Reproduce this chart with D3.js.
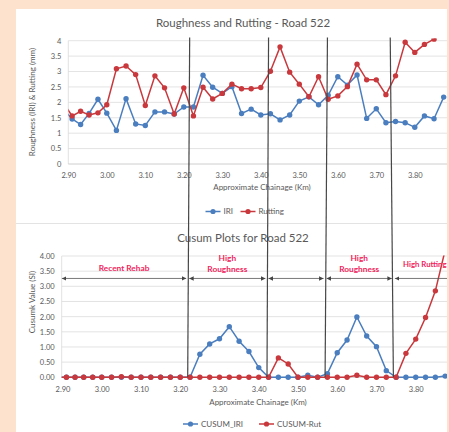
<!DOCTYPE html>
<html><head><meta charset="utf-8">
<script src="https://cdn.jsdelivr.net/npm/d3@7"></script>
<style>body{margin:0;background:#fde2ce;} svg{display:block;font-family:Lato,"Open Sans",sans-serif;}</style>
</head><body><svg id="c" width="449" height="432"></svg>
<script>
// ---- data ----
const chainage = [2.888, 2.910, 2.932, 2.954, 2.977, 3.000, 3.025, 3.050, 3.075, 3.100, 3.125,
  3.150, 3.175, 3.200, 3.225, 3.250, 3.275, 3.300, 3.325, 3.350, 3.375, 3.400, 3.425, 3.450,
  3.475, 3.500, 3.525, 3.550, 3.575, 3.600, 3.625, 3.650, 3.675, 3.700, 3.725, 3.750, 3.775,
  3.800, 3.825, 3.850, 3.875];
const iri = [1.76, 1.46, 1.28, 1.64, 2.10, 1.65, 1.09, 2.12, 1.30, 1.25, 1.69, 1.69, 1.62, 1.85,
  1.85, 2.88, 2.49, 2.29, 2.51, 1.64, 1.78, 1.59, 1.63, 1.43, 1.59, 2.04, 2.18, 1.92, 2.23, 2.83,
  2.56, 2.89, 1.48, 1.79, 1.34, 1.38, 1.34, 1.19, 1.56, 1.47, 2.17];
const rutting = [1.96, 1.56, 1.71, 1.59, 1.66, 1.92, 3.09, 3.18, 2.90, 1.90, 2.86, 2.47, 1.62,
  2.47, 1.56, 2.49, 2.11, 2.29, 2.59, 2.44, 2.44, 2.48, 3.01, 3.80, 2.98, 2.59, 2.18, 2.83, 2.10,
  2.21, 2.51, 3.24, 2.73, 2.73, 2.25, 2.86, 3.95, 3.62, 3.88, 4.05, 4.30];
const cusumIri = [0, 0, 0, 0, 0, 0, 0, 0, 0, 0, 0, 0, 0, 0, 0, 0.76, 1.10, 1.27, 1.67, 1.19, 0.85,
  0.32, 0, 0, 0, 0, 0.07, 0, 0.12, 0.81, 1.23, 1.99, 1.36, 1.01, 0.22, 0, 0, 0, 0, 0, 0.04];
const cusumRut = [0, 0, 0, 0, 0, 0, 0, 0.02, 0, 0, 0, 0, 0, 0, 0, 0, 0, 0, 0, 0, 0, 0, 0, 0.64,
  0.44, 0, 0, 0, 0, 0, 0, 0.07, 0, 0, 0, 0, 0.79, 1.26, 1.97, 2.85, 4.20];
const xTicks = [2.90, 3.00, 3.10, 3.20, 3.30, 3.40, 3.50, 3.60, 3.70, 3.80];
const yTicks = [0, 0.5, 1, 1.5, 2, 2.5, 3, 3.5, 4];
const dividerTopKm = [3.224, 3.425, 3.575, 3.735];
const dividerBotKm = [3.219, 3.421, 3.569, 3.743];
const segmentLabels = [["Recent Rehab"], ["High", "Roughness"], [], ["High", "Roughness"], ["High Rutting"]];
const arrowLevel = 3.26;

const BLUE = "#4a7ebf", RED = "#c8383c", GREY = "#595959", LBL = "#f0245c";

const svg = d3.select("#c");
// white panel
svg.append("rect").attr("x", 16).attr("y", 9).attr("width", 431).attr("height", 423).attr("fill", "#fff");
svg.append("line").attr("x1", 16).attr("x2", 447).attr("y1", 223.5).attr("y2", 223.5)
  .attr("stroke", "#e3e3e3").attr("stroke-width", 1);

const defs = svg.append("defs");
defs.append("clipPath").attr("id", "clipT").append("rect").attr("x", 68.3).attr("y", 38.5).attr("width", 378.7).attr("height", 130);
defs.append("clipPath").attr("id", "clipB").append("rect").attr("x", 61.7).attr("y", 255.5).attr("width", 385.3).attr("height", 126);
defs.append("clipPath").attr("id", "clipPanel").append("rect").attr("x", 16).attr("y", 9).attr("width", 431).attr("height", 423);
["s", "e"].forEach(k => {
  defs.append("marker").attr("id", "ar" + k).attr("viewBox", "0 0 10 10").attr("refX", k === "e" ? 10 : 0).attr("refY", 5)
    .attr("markerWidth", 4.5).attr("markerHeight", 4.5).attr("markerUnits", "userSpaceOnUse").attr("orient", "auto")
    .append("path").attr("d", k === "e" ? "M0,0L10,5L0,10Z" : "M10,0L0,5L10,10Z").attr("fill", "#444");
});

function chart(cfg) {
  const { x, y, left, right, clip, title, titleY, yFmt, yTitle, yTitleY, series, legendY, legendX } = cfg;
  const g = svg.append("g");
  // gridlines
  g.selectAll(".grid").data(yTicks.slice(1)).join("line")
    .attr("x1", left).attr("x2", right).attr("y1", d => y(d)).attr("y2", d => y(d))
    .attr("stroke", "#dcdcdc").attr("stroke-width", 0.8);
  g.append("line").attr("x1", left).attr("x2", left).attr("y1", y(4)).attr("y2", y(0))
    .attr("stroke", "#d9d9d9").attr("stroke-width", 0.8);
  g.append("line").attr("x1", left).attr("x2", right).attr("y1", y(0)).attr("y2", y(0))
    .attr("stroke", "#c8c8c8").attr("stroke-width", 0.9);
  // axes
  const ax = g.append("g").attr("transform", `translate(0,${y(0)})`)
    .call(d3.axisBottom(x).tickValues(xTicks).tickFormat(d3.format(".2f")).tickSize(0).tickPadding(9));
  ax.select(".domain").remove();
  ax.selectAll("text").attr("fill", GREY).attr("font-size", 7.5).attr("font-family", "Lato");
  const ay = g.append("g").attr("transform", `translate(${left},0)`)
    .call(d3.axisLeft(y).tickValues(yTicks).tickFormat(yFmt).tickSize(0).tickPadding(7));
  ay.select(".domain").remove();
  ay.selectAll("text").attr("fill", GREY).attr("font-size", 7.5).attr("font-family", "Lato");
  // titles
  g.append("text").attr("x", 243).attr("y", titleY).attr("text-anchor", "middle").attr("fill", GREY)
    .attr("font-size", 11.5).text(title);
  g.append("text").attr("transform", `translate(35,${yTitleY}) rotate(-90)`).attr("text-anchor", "middle")
    .attr("fill", GREY).attr("font-size", 8).text(yTitle);
  g.append("text").attr("x", cfg.xTitleX).attr("y", cfg.xTitleY).attr("text-anchor", "middle").attr("fill", GREY)
    .attr("font-size", 8).text("Approximate Chainage (Km)");
  // series
  const pg = g.append("g").attr("clip-path", `url(#${clip})`);
  series.forEach(s => {
    const pts = chainage.map((c, i) => [c, s.values[i]]);
    pg.append("path").attr("d", d3.line().x(d => x(d[0])).y(d => y(d[1]))(pts))
      .attr("fill", "none").attr("stroke", s.color).attr("stroke-width", 1.5);
    pg.selectAll(null).data(pts.slice(1)).join("circle")
      .attr("cx", d => x(d[0])).attr("cy", d => y(d[1])).attr("r", 2.7).attr("fill", s.color);
  });
  // legend
  series.forEach((s, i) => {
    const lx = legendX[i];
    g.append("line").attr("x1", lx).attr("x2", lx + 15).attr("y1", legendY).attr("y2", legendY)
      .attr("stroke", s.color).attr("stroke-width", 1.5);
    g.append("circle").attr("cx", lx + 7.5).attr("cy", legendY).attr("r", 2.6).attr("fill", s.color);
    g.append("text").attr("x", lx + 18).attr("y", legendY + 2.8).attr("fill", GREY).attr("font-size", 8).text(s.name);
  });
  return g;
}

const xT = d3.scaleLinear().domain([2.90, 3.80]).range([68.3, 68.3 + 0.9 * 385]);
const yT = d3.scaleLinear().domain([0, 4]).range([164, 40.7]);
chart({ x: xT, y: yT, left: 68.3, right: 447, clip: "clipT", title: "Roughness and Rutting - Road 522", titleY: 27,
  yFmt: d3.format("~g"), yTitle: "Roughness (IRI) & Rutting (mm)", yTitleY: 102, xTitleX: 262, xTitleY: 190,
  series: [{ name: "IRI", values: iri, color: BLUE }, { name: "Rutting", values: rutting, color: RED }],
  legendY: 211.5, legendX: [205.5, 240.5] });

const xB = d3.scaleLinear().domain([2.90, 3.80]).range([62.5, 62.5 + 0.9 * 392.5]);
const yB = d3.scaleLinear().domain([0, 4]).range([377.3, 256]);
chart({ x: xB, y: yB, left: 61.7, right: 447, clip: "clipB", title: "Cusum Plots for Road 522", titleY: 242,
  yFmt: d3.format(".2f"), yTitle: "Cusumk Value (SI)", yTitleY: 302, xTitleX: 258, xTitleY: 405,
  series: [{ name: "CUSUM_IRI", values: cusumIri, color: BLUE }, { name: "CUSUM-Rut", values: cusumRut, color: RED }],
  legendY: 424, legendX: [183, 259] });

// divider lines spanning both charts
svg.append("g").selectAll("line").data(dividerTopKm).join("line")
  .attr("x1", d => xB(d)).attr("y1", 37.5).attr("x2", (d, i) => xB(dividerBotKm[i])).attr("y2", yB(0))
  .attr("stroke", "#474747").attr("stroke-width", 1.2);

// segment arrows + labels
const bounds = [61.9, ...dividerBotKm.map(d => xB(d)), 470];
const ann = svg.append("g").attr("clip-path", "url(#clipPanel)");
const ay = yB(arrowLevel);
for (let i = 0; i < bounds.length - 1; i++) {
  const a = bounds[i] + (i ? 1.5 : 0), b = bounds[i + 1] - 1.5;
  ann.append("line").attr("x1", a).attr("x2", b).attr("y1", ay).attr("y2", ay)
    .attr("stroke", "#555").attr("stroke-width", 0.8)
    .attr("marker-start", "url(#ars)").attr("marker-end", "url(#are)");
  const lines = segmentLabels[i];
  const last = i === 4;
  const cx = last ? 403 : (a + b) / 2;
  lines.forEach((t, j) => {
    const yy = lines.length === 1 ? ay - (last ? 11 : 7) : ay - 17 + j * 10.5;
    ann.append("text").attr("x", cx).attr("y", yy).attr("text-anchor", last ? "start" : "middle")
      .attr("fill", LBL).attr("font-size", last ? 7.8 : 8.3).attr("font-weight", "bold").text(t);
  });
}
</script></body></html>
